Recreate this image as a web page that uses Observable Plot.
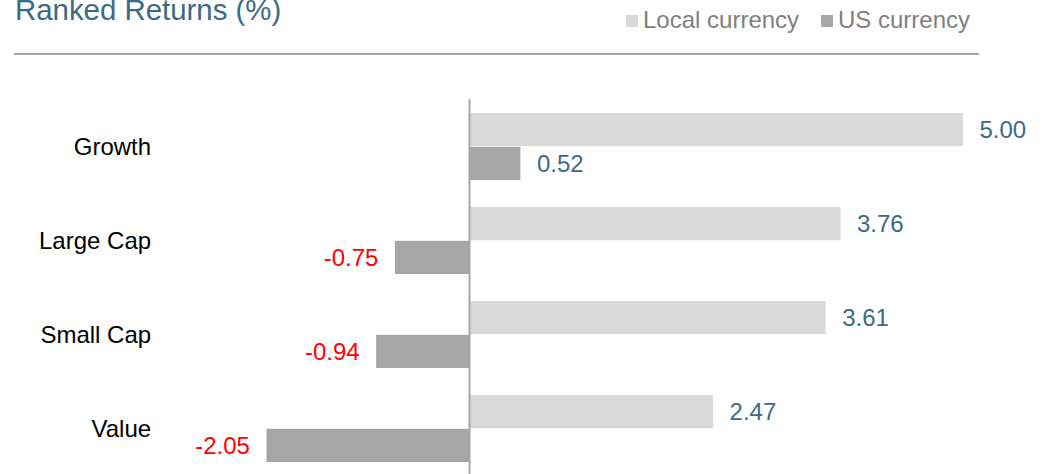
<!DOCTYPE html>
<html>
<head>
<meta charset="utf-8">
<script src="https://cdn.jsdelivr.net/npm/d3@7"></script>
<script src="https://cdn.jsdelivr.net/npm/@observablehq/plot@0.6"></script>
<style>
  body { margin: 0; background: #ffffff; font-family: "Liberation Sans", Arial, sans-serif; }
  #wrap { position: relative; width: 1044px; height: 474px; overflow: hidden; }
  #header { position: relative; width: 1044px; height: 56px; }
  .title { position: absolute; left: 15px; top: -5.5px; font-size: 29.4px; line-height: 1; color: #3b6a88; white-space: nowrap; }
  .legend { position: absolute; top: 8px; font-size: 24px; line-height: 1; color: #7f7f7f; white-space: nowrap; }
  .swatch { position: absolute; top: 15px; width: 12px; height: 12px; }
  .rule { position: absolute; left: 14px; top: 53px; width: 965px; height: 2px; background: #a6a6a6; }
  #chart svg { display: block; }
</style>
</head>
<body>
<div id="wrap">
  <div id="header">
    <div class="title">Ranked Returns (%)</div>
    <div id="legend"></div>
    <div class="rule"></div>
  </div>
  <div id="chart"></div>
</div>
<script>
// ---- Data ----
const categories = ["Growth", "Large Cap", "Small Cap", "Value"];
const localReturns = [5.00, 3.76, 3.61, 2.47];
const usReturns = [0.52, -0.75, -0.94, -2.05];
const seriesNames = ["Local currency", "US currency"];
const seriesColors = ["#d9d9d9", "#a6a6a6"];

// ---- Legend (HTML, above the SVG) ----
const legend = document.getElementById("legend");
const legendX = [626, 821];
seriesNames.forEach((name, i) => {
  const sw = document.createElement("div");
  sw.className = "swatch";
  sw.style.left = legendX[i] + "px";
  sw.style.background = seriesColors[i];
  legend.appendChild(sw);
  const t = document.createElement("div");
  t.className = "legend";
  t.style.left = (legendX[i] + 17) + "px";
  t.textContent = name;
  legend.appendChild(t);
});

// ---- Table ----
const seriesValues = [localReturns, usReturns];
const rows = [];
seriesNames.forEach((s, si) => {
  categories.forEach((c, ci) => {
    rows.push({ category: c, series: s, si, value: seriesValues[si][ci] });
  });
});

// ---- Layout ----
const W = 1044, H = 418;
const marginTop = 43, marginBottom = 0;
const marginLeft = 172.6, marginRight = 31.6;
const padInner = 0.285, padOuter = 0.125;
const step = (H - marginTop - marginBottom) / (categories.length - padInner + 2 * padOuter);
const bw = step * (1 - padInner);
const half = bw / 2;

const blue = "#3b6a88", red = "#ff0000";

const marks = [];
seriesNames.forEach((s, si) => {
  const data = rows.filter(d => d.si === si);
  marks.push(Plot.barX(data, {
    x: "value", y: "category", fill: seriesColors[si],
    insetTop: si === 0 ? 0 : half,
    insetBottom: si === 0 ? half : 0
  }));
});
marks.push(Plot.ruleX([0], { stroke: "#a6a6a6", strokeWidth: 2 }));
seriesNames.forEach((s, si) => {
  const dy = si === 0 ? -half / 2 : half / 2;
  const data = rows.filter(d => d.si === si);
  marks.push(Plot.text(data.filter(d => d.value >= 0), {
    x: "value", y: "category", text: d => d.value.toFixed(2),
    dx: 16, dy, textAnchor: "start", fill: blue, fontSize: 24
  }));
  marks.push(Plot.text(data.filter(d => d.value < 0), {
    x: "value", y: "category", text: d => d.value.toFixed(2),
    dx: -17, dy, textAnchor: "end", fill: red, fontSize: 24
  }));
});
marks.push(Plot.text(categories, {
  y: d => d, text: d => d, frameAnchor: "left", dx: -22,
  textAnchor: "end", fill: "#000000", fontSize: 24
}));

const plot = Plot.plot({
  width: W,
  height: H,
  marginTop, marginBottom, marginLeft, marginRight,
  style: { fontFamily: "'Liberation Sans', Arial, sans-serif", fontSize: "24px", background: "#ffffff", overflow: "visible" },
  x: { domain: [-3, 5.5], axis: null },
  y: { type: "band", domain: categories, paddingInner: padInner, paddingOuter: padOuter, align: 0.55, axis: null },
  marks
});
document.getElementById("chart").appendChild(plot);
</script>
</body>
</html>
